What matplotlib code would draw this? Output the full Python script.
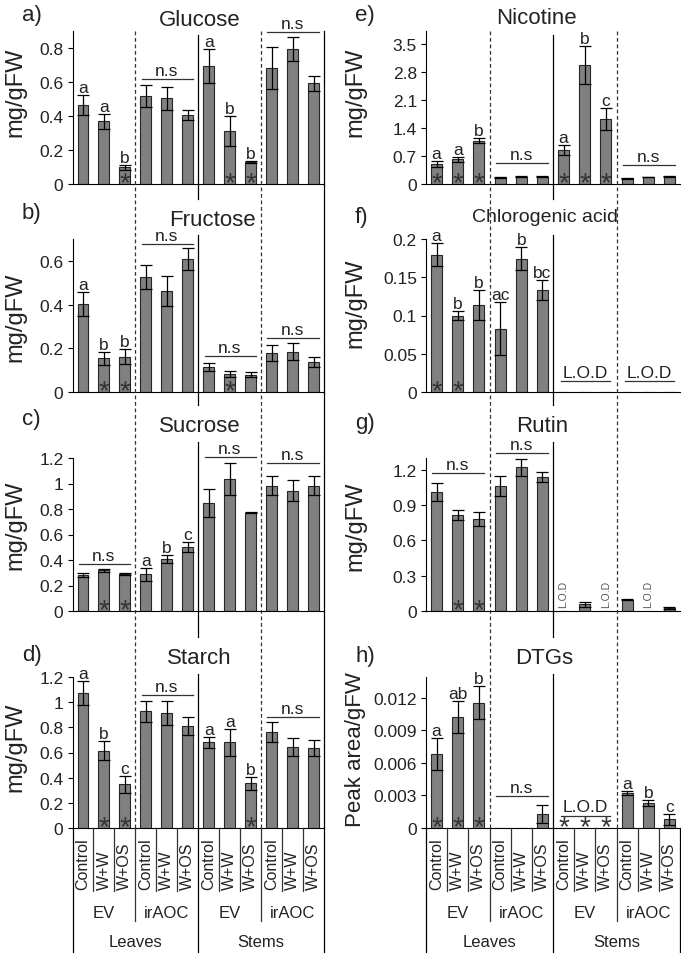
import matplotlib
matplotlib.use('Agg')
import matplotlib.pyplot as plt
from matplotlib.lines import Line2D
from matplotlib.ticker import FuncFormatter
from matplotlib.transforms import blended_transform_factory, offset_copy

plt.rcParams['font.family'] = ['Liberation Sans', 'DejaVu Sans']

W, H = 681, 954

treatments = ['Control', 'W+W', 'W+OS']
genotypes = ['EV', 'irAOC']
tissues = ['Leaves', 'Stems']

# ── data (12 bars: Leaves EV, Leaves irAOC, Stems EV, Stems irAOC) ──
glucose_mean = [0.465, 0.369, 0.098, 0.516, 0.504, 0.408, 0.696, 0.314, 0.130, 0.682, 0.794, 0.592]
glucose_err = [0.057, 0.043, 0.014, 0.065, 0.066, 0.030, 0.100, 0.088, 0.008, 0.125, 0.070, 0.045]
glucose_letters = ['a', 'a', 'b', '', '', '', 'a', 'b', 'b', '', '', '']
glucose_stars = [2, 7, 8]

fructose_mean = [0.403, 0.154, 0.162, 0.526, 0.462, 0.610, 0.113, 0.082, 0.080, 0.177, 0.184, 0.139]
fructose_err = [0.053, 0.030, 0.035, 0.055, 0.070, 0.050, 0.018, 0.013, 0.010, 0.036, 0.038, 0.023]
fructose_letters = ['a', 'b', 'b', '', '', '', '', '', '', '', '', '']
fructose_stars = [1, 2, 7]

sucrose_mean = [0.284, 0.321, 0.290, 0.287, 0.407, 0.504, 0.846, 1.034, 0.770, 0.984, 0.945, 0.984]
sucrose_err = [0.016, 0.012, 0.005, 0.052, 0.033, 0.040, 0.110, 0.125, 0.005, 0.073, 0.083, 0.078]
sucrose_letters = ['', '', '', 'a', 'b', 'c', '', '', '', '', '', '']
sucrose_stars = [1, 2]

starch_mean = [1.076, 0.615, 0.346, 0.926, 0.916, 0.813, 0.681, 0.681, 0.356, 0.763, 0.646, 0.639]
starch_err = [0.095, 0.078, 0.066, 0.084, 0.097, 0.071, 0.045, 0.108, 0.053, 0.081, 0.070, 0.063]
starch_letters = ['a', 'b', 'c', '', '', '', 'a', 'a', 'b', '', '', '']
starch_stars = [1, 2, 8]

nicotine_mean = [0.508, 0.617, 1.083, 0.167, 0.183, 0.183, 0.850, 2.975, 1.625, 0.142, 0.175, 0.192]
nicotine_err = [0.070, 0.060, 0.060, 0.010, 0.010, 0.010, 0.125, 0.480, 0.275, 0.010, 0.010, 0.010]
nicotine_letters = ['a', 'a', 'b', '', '', '', 'a', 'b', 'c', '', '', '']
nicotine_stars = [0, 1, 2, 6, 7, 8]

chlorogenic_mean = [0.1796, 0.0996, 0.1135, 0.083, 0.1743, 0.133, 0, 0, 0, 0, 0, 0]
chlorogenic_err = [0.015, 0.006, 0.020, 0.034, 0.015, 0.013, 0, 0, 0, 0, 0, 0]
chlorogenic_letters = ['a', 'b', 'b', 'ac', 'b', 'bc', '', '', '', '', '', '']
chlorogenic_stars = [0, 1]

rutin_mean = [1.011, 0.816, 0.782, 1.062, 1.220, 1.138, 0, 0.056, 0, 0.095, 0, 0.025]
rutin_err = [0.077, 0.042, 0.057, 0.085, 0.074, 0.040, 0, 0.020, 0, 0.003, 0, 0.012]
rutin_letters = [''] * 12
rutin_stars = [1, 2]
rutin_lod_bars = [6, 8, 10]

dtg_mean = [0.00683, 0.01022, 0.01154, 0, 0, 0.00129, 0, 0, 0, 0.00323, 0.00231, 0.00080]
dtg_err = [0.0015, 0.0015, 0.0015, 0, 0, 0.0008, 0, 0, 0, 0.00015, 0.00025, 0.0005]
dtg_letters = ['a', 'ab', 'b', '', '', '', '', '', '', 'a', 'b', 'c']
dtg_stars = [0, 1, 2, 6, 7, 8]

ticks_glucose = [0, 0.2, 0.4, 0.6, 0.8]
ticks_fructose = [0, 0.2, 0.4, 0.6]
ticks_sucrose = [0, 0.2, 0.4, 0.6, 0.8, 1.0, 1.2]
ticks_starch = [0, 0.2, 0.4, 0.6, 0.8, 1.0, 1.2]
ticks_nicotine = [0, 0.7, 1.4, 2.1, 2.8, 3.5]
ticks_chlorogenic = [0, 0.05, 0.1, 0.15, 0.2]
ticks_rutin = [0, 0.3, 0.6, 0.9, 1.2]
ticks_dtg = [0, 0.003, 0.006, 0.009, 0.012]

# ── layout (pixels) ──
COLS = [(72.5, 324), (426, 680)]
ROWS = [(32, 185), (240, 393), (459, 612), (678, 829)]
MID_SEG = [(36, 200), (236, 406), (443, 638), (675, 953.5)]

panels = [
    dict(tag='a)', title='Glucose', mean=glucose_mean, err=glucose_err, letters=glucose_letters,
         stars=glucose_stars, ticks=ticks_glucose, ylim=0.9, ns={1: 6.5, 3: 5.5}, lod={},
         col=0, row=0, title_xy=(200, 20), tag_y=15, ylab='mg/gFW', ylab_y=92, tsize=16),
    dict(tag='b)', title='Fructose', mean=fructose_mean, err=fructose_err, letters=fructose_letters,
         stars=fructose_stars, ticks=ticks_fructose, ylim=0.7, ns={1: 3.5, 2: 7, 3: 5.5}, lod={},
         col=0, row=1, title_xy=(212, 220), tag_y=213, ylab='mg/gFW', ylab_y=317, tsize=16),
    dict(tag='c)', title='Sucrose', mean=sucrose_mean, err=sucrose_err, letters=sucrose_letters,
         stars=sucrose_stars, ticks=ticks_sucrose, ylim=1.2, ns={0: 5, 2: 6, 3: 12.5}, lod={},
         col=0, row=2, title_xy=(200, 427), tag_y=420, ylab='mg/gFW', ylab_y=525, tsize=16),
    dict(tag='d)', title='Starch', mean=starch_mean, err=starch_err, letters=starch_letters,
         stars=starch_stars, ticks=ticks_starch, ylim=1.2, ns={1: 6, 3: 5}, lod={},
         col=0, row=3, title_xy=(199, 658), tag_y=655, ylab='mg/gFW', ylab_y=747, tsize=16),
    dict(tag='e)', title='Nicotine', mean=nicotine_mean, err=nicotine_err, letters=nicotine_letters,
         stars=nicotine_stars, ticks=ticks_nicotine, ylim=3.83, ns={1: 13, 3: 11}, lod={},
         col=1, row=0, title_xy=(536, 19), tag_y=16, ylab='mg/gFW', ylab_y=92, tsize=16),
    dict(tag='f)', title='Chlorogenic acid', mean=chlorogenic_mean, err=chlorogenic_err,
         letters=chlorogenic_letters, stars=chlorogenic_stars, ticks=ticks_chlorogenic, ylim=0.2,
         ns={}, lod={2: 11, 3: 11}, col=1, row=1, title_xy=(545, 218), tag_y=218,
         ylab='mg/gFW', ylab_y=303, tsize=14),
    dict(tag='g)', title='Rutin', mean=rutin_mean, err=rutin_err, letters=rutin_letters,
         stars=rutin_stars, ticks=ticks_rutin, ylim=1.3, ns={0: 10, 1: 5.5}, lod={},
         col=1, row=2, title_xy=(542, 427), tag_y=423, ylab='mg/gFW', ylab_y=526, tsize=16),
    dict(tag='h)', title='DTGs', mean=dtg_mean, err=dtg_err, letters=dtg_letters,
         stars=dtg_stars, ticks=ticks_dtg, ylim=0.0139, ns={1: 9}, lod={2: 12.5},
         col=1, row=3, title_xy=(544, 658), tag_y=657, ylab='Peak area/gFW', ylab_y=750, tsize=16),
]

BAR_C = '#808080'
EDGE_C = '#262626'
LINE_C = '#333333'

fig = plt.figure(figsize=(W / 100, H / 100), dpi=100)
fig.patch.set_facecolor('white')


def fx(x):
    return x / W


def fy(y):
    return 1 - y / H


fmt = FuncFormatter(lambda v, p: '%g' % v)
col_axes = {0: [], 1: []}
xpos = list(range(12))

for p in panels:
    x0, x1 = COLS[p['col']]
    y0, y1 = ROWS[p['row']]
    ax = fig.add_axes([fx(x0), fy(y1), (x1 - x0) / W, (y1 - y0) / H])
    col_axes[p['col']].append(ax)

    ax.bar(xpos, p['mean'], width=0.52, color=BAR_C, edgecolor=EDGE_C, linewidth=0.8, zorder=2)
    has = [i for i in xpos if p['mean'][i] > 0]
    ax.errorbar([xpos[i] for i in has], [p['mean'][i] for i in has],
                yerr=[p['err'][i] for i in has], fmt='none', ecolor='black',
                elinewidth=0.9, capsize=4.5, capthick=0.9, zorder=3)

    ax.set_xlim(-0.5, 11.5)
    ax.set_ylim(0, p['ylim'])
    ax.set_yticks(p['ticks'])
    ax.yaxis.set_major_formatter(fmt)
    ax.set_xticks([])
    ax.tick_params(axis='y', direction='out', length=3.5, width=0.8, labelsize=12.5, pad=3,
                   colors='black', labelcolor='#222222')
    for s in ['top', 'right']:
        ax.spines[s].set_visible(False)
    for s in ['left', 'bottom']:
        ax.spines[s].set_linewidth(0.8)
        ax.spines[s].set_color('black')
    ax.patch.set_alpha(0)

    tops = [m + e for m, e in zip(p['mean'], p['err'])]

    # significance letters
    for i, lab in enumerate(p['letters']):
        if lab:
            ax.annotate(lab, (i, tops[i]), xytext=(0, 0), textcoords='offset points',
                        ha='center', va='bottom', fontsize=12.5, color='#222222',
                        annotation_clip=False)

    # asterisks
    for i in p['stars']:
        ax.annotate('*', (i, 0), xytext=(0, -6), textcoords='offset pixels',
                    ha='center', va='baseline', fontsize=20, color='#333333',
                    annotation_clip=False, zorder=4)

    # n.s brackets
    for g, off in p['ns'].items():
        i0 = 3 * g
        level = max(tops[i0:i0 + 3])
        tr = offset_copy(ax.transData, fig=fig, x=0, y=off, units='dots')
        ax.add_line(Line2D([i0 - 0.2, i0 + 2.25], [level, level], transform=tr,
                           color=LINE_C, lw=0.9, clip_on=False))
        ax.text(i0 + 1, level, 'n.s', transform=offset_copy(ax.transData, fig=fig, x=0, y=off + 1,
                                                           units='dots'),
                ha='center', va='bottom', fontsize=12.5, color='#222222')

    # L.O.D brackets
    for g, off in p['lod'].items():
        i0 = 3 * g
        tr = offset_copy(ax.transData, fig=fig, x=0, y=off, units='dots')
        ax.add_line(Line2D([i0 - 0.1, i0 + 2.2], [0, 0], transform=tr,
                           color=LINE_C, lw=0.9, clip_on=False))
        ax.text(i0 + 1.05, 0, 'L.O.D', transform=offset_copy(ax.transData, fig=fig, x=0, y=off + 1,
                                                            units='dots'),
                ha='center', va='bottom', fontsize=12.5, color='#222222')

    if p['title'] == 'Rutin':
        for i in rutin_lod_bars:
            ax.annotate('L.O.D', (i, 0), xytext=(0, 3), textcoords='offset points',
                        rotation=90, ha='center', va='bottom', fontsize=7.5, color='#555555')

    # titles, tags, y labels
    fig.text(fx(p['title_xy'][0]), fy(p['title_xy'][1]), p['title'], ha='center', va='center',
             fontsize=p['tsize'], color='#222222')
    tag_x = 22 if p['col'] == 0 else 355
    fig.text(fx(tag_x), fy(p['tag_y']), p['tag'], ha='left', va='center', fontsize=16,
             color='#222222')
    ylab_x = 15 if p['col'] == 0 else 355
    fig.text(fx(ylab_x), fy(p['ylab_y']), p['ylab'], rotation=90, ha='center', va='center',
             fontsize=17 if p['ylab'] == 'mg/gFW' else 16, color='#222222')

# ── separators and category table ──
for c, axes in col_axes.items():
    ax_b = axes[-1]
    tr = blended_transform_factory(ax_b.transData, fig.transFigure)
    top_y, zero_y = 32, ROWS[3][1]
    # dashed genotype separators through the panels
    for xb in [2.5, 8.5]:
        fig.add_artist(Line2D([xb, xb], [fy(top_y), fy(zero_y)], transform=tr,
                              color=LINE_C, lw=0.9, ls=(0, (3, 2.2))))
        fig.add_artist(Line2D([xb, xb], [fy(zero_y), fy(922)], transform=tr,
                              color=LINE_C, lw=0.9))
    # tissue separator, per panel
    for (sa, sb) in MID_SEG:
        fig.add_artist(Line2D([5.5, 5.5], [fy(sa), fy(sb)], transform=tr, color='black', lw=0.9))
    # right border
    if c == 0:
        fig.add_artist(Line2D([11.5, 11.5], [fy(top_y), fy(953.5)], transform=tr,
                              color='black', lw=0.9))
    else:
        fig.add_artist(Line2D([11.5, 11.5], [fy(zero_y), fy(953.5)], transform=tr,
                              color='black', lw=0.9))
    fig.add_artist(Line2D([-0.5, -0.5], [fy(zero_y), fy(953.5)], transform=tr,
                          color='black', lw=0.9))
    # treatment separators
    for xb in [0.5, 1.5, 3.5, 4.5, 6.5, 7.5, 9.5, 10.5]:
        fig.add_artist(Line2D([xb, xb], [fy(zero_y), fy(892)], transform=tr,
                              color=LINE_C, lw=0.9))
    # labels
    for i in range(12):
        fig.text(i, fy(890), treatments[i % 3], transform=tr, rotation=90,
                 ha='center', va='bottom', fontsize=11.5, color='#222222')
    for g in range(4):
        fig.text(3 * g + 1, fy(914), genotypes[g % 2], transform=tr,
                 ha='center', va='center', fontsize=12, color='#222222')
    for t in range(2):
        fig.text(6 * t + 2.5, fy(943), tissues[t], transform=tr,
                 ha='center', va='center', fontsize=12, color='#222222')

plt.savefig('out.png', dpi=100)
plt.close()
